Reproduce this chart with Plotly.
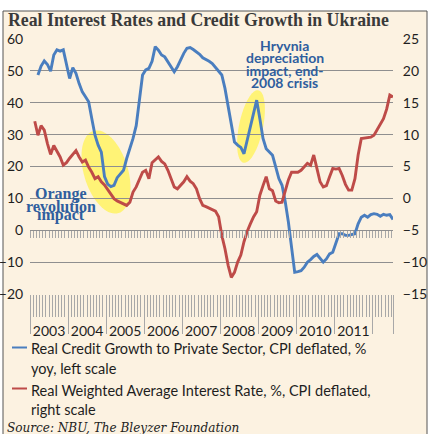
import plotly.graph_objects as go
import numpy as np

# ---------------- data ----------------
years = [2003, 2004, 2005, 2006, 2007, 2008, 2009, 2010, 2011]

# Real credit growth to private sector, % yoy (left scale); monthly, index 0 = Jan 2003
credit_growth = [
    None, None, 48.7, 51.5, 53.1, 52.0, 49.9, 55.0, 56.6, 56.2,
    56.6, 52.3, 47.6, 51.0, 49.2, 46.0, 43.4, 41.9, 40.3, 35.0,
    29.8, 26.7, 24.5, 16.8, 14.5, 13.7, 14.1, 16.5, 17.8, 18.8,
    22.5, 25.6, 28.8, 32.8, 40.3, 48.7, 50.3, 50.8, 53.0, 57.6,
    56.5, 55.0, 54.4, 52.9, 51.3, 49.7, 51.3, 53.5, 55.5, 57.1,
    57.3, 56.7, 56.0, 55.2, 54.1, 53.6, 53.0, 52.3, 51.0, 49.7,
    48.7, 44.5, 39.2, 33.0, 27.7, 26.7, 26.0, 24.0, 28.0, 32.0,
    36.5, 40.8, 35.0, 28.8, 25.6, 24.6, 23.5, 19.9, 16.2, 14.1,
    9.0, 2.6, -5.8, -13.2, -13.0, -12.7, -11.6, -10.0, -9.2, -8.2,
    -7.6, -9.0, -10.0, -9.0, -7.4, -6.9, -4.3, -1.1, -1.1, -1.6,
    -1.6, -1.4, -1.1, 2.0, 4.1, 4.7, 4.1, 4.9, 5.2, 5.0,
    4.4, 5.0, 4.7, 4.9, 3.4,
]

# Real weighted average interest rate, % (right scale)
interest_rate = [
    None, 12.1, 9.9, 11.4, 10.7, 8.6, 6.9, 8.3, 7.3, 6.5,
    5.2, 5.6, 6.3, 6.9, 7.5, 6.5, 5.7, 6.0, 4.9, 4.1,
    3.1, 3.4, 2.6, 2.1, 1.4, 0.7, -0.05, -0.4, -0.6, -0.8,
    -1.1, -0.6, 1.0, 1.8, 3.1, 4.1, 4.4, 3.1, 5.6, 6.1,
    6.5, 5.8, 5.4, 4.4, 3.0, 1.8, 1.5, 2.0, 2.6, 3.4,
    2.7, 2.3, 1.5, -0.05, -1.1, -1.3, -1.5, -1.7, -2.0, -2.9,
    -5.8, -7.9, -10.5, -12.4, -11.6, -10.0, -8.9, -6.8, -5.2, -4.0,
    -2.9, -2.1, 0.5, 2.0, 3.4, 1.5, 1.2, -0.4, -0.7, -0.6,
    1.2, 2.9, 4.1, 4.1, 4.1, 4.4, 4.9, 5.5, 5.2, 6.8,
    4.7, 2.6, 1.8, 2.0, 3.4, 4.7, 4.6, 4.7, 3.6, 2.2,
    1.3, 1.3, 3.1, 6.8, 9.4, 9.5, 9.6, 9.6, 9.9, 10.8,
    11.7, 12.5, 14.0, 16.2, 15.9,
]

month_index = list(range(len(credit_growth)))

series_names = [
    "Real Credit Growth to Private Sector, CPI deflated, %",
    "Real Weighted Average Interest Rate, %, CPI deflated,",
]
legend_second_lines = ["yoy, left scale", "right scale"]

# ---------------- layout helpers ----------------
W, H = 428, 434
ML, MR, MT, MB = 30, 35, 39, 140
PW, PH = W - ML - MR, H - MT - MB


def px(x):
    return (x - ML) / PW


def py(y):
    return (MT + PH - y) / PH


BLUE = "#4A7EBF"
RED = "#BE4B48"
TXT_BLUE = "#2F5E9E"
GRID = "#8f8f8f"
TICK = "#a8a8a8"
CREAM = "#FCF2E1"
SANS = "Lato"

x_range = [-0.5, len(month_index) - 1]

fig = go.Figure()
fig.add_trace(go.Scatter(x=month_index, y=credit_growth, mode="lines",
                         line=dict(color=BLUE, width=2.9), name=series_names[0],
                         yaxis="y", showlegend=False))
fig.add_trace(go.Scatter(x=month_index, y=interest_rate, mode="lines",
                         line=dict(color=RED, width=2.9), name=series_names[1],
                         yaxis="y2", showlegend=False))
# empty helper traces so the year-label axis and the zero-line tick axis get drawn
fig.add_trace(go.Scatter(x=[], y=[], xaxis="x2", yaxis="y", showlegend=False, hoverinfo="skip"))
fig.add_trace(go.Scatter(x=[], y=[], xaxis="x3", yaxis="y", showlegend=False, hoverinfo="skip"))

year_bounds = [-0.5 + 12 * k for k in range(len(years) + 1)] + [x_range[1]]
year_mids = [5.5 + 12 * k for k in range(len(years))]


def ellipse(cx, cy, a, b, ang):
    t = np.linspace(0, 2 * np.pi, 72)
    phi = np.radians(ang)
    xs = cx + a * np.cos(t) * np.cos(phi) - b * np.sin(t) * np.sin(phi)
    ys = cy + a * np.cos(t) * np.sin(phi) + b * np.sin(t) * np.cos(phi)
    pts = [f"{px(x):.5f},{py(y):.5f}" for x, y in zip(xs, ys)]
    return "M" + " L".join(pts) + " Z"


shapes = [
    dict(type="rect", xref="paper", yref="paper", x0=px(3), x1=px(427),
         y0=py(440), y1=py(11), fillcolor=CREAM, line=dict(color="#555555", width=1),
         layer="below"),
    dict(type="path", xref="paper", yref="paper", path=ellipse(106, 172, 43, 22, 73),
         fillcolor="#FFF36A", line=dict(width=0), opacity=0.9, layer="between"),
    dict(type="path", xref="paper", yref="paper", path=ellipse(251, 126.5, 37, 12, 101.6),
         fillcolor="#FFF36A", line=dict(width=0), opacity=0.9, layer="between"),
    dict(type="line", xref="paper", yref="paper", x0=px(12), x1=px(27),
         y0=py(347.5), y1=py(347.5), line=dict(color=BLUE, width=2)),
    dict(type="line", xref="paper", yref="paper", x0=px(12), x1=px(27),
         y0=py(388.5), y1=py(388.5), line=dict(color=RED, width=2)),
]


def ann(text, x, y, size, color, family, xanchor="center", weight="normal", style="normal"):
    return dict(text=text, x=px(x), y=py(y), xref="paper", yref="paper",
                xanchor=xanchor, yanchor="middle", showarrow=False, borderpad=0,
                font=dict(size=size, color=color, family=family, weight=weight, style=style))


annotations = [
    ann("Real Interest Rates and Credit Growth in Ukraine", 7, 20, 17.8, "#3a3a3a",
        "Liberation Serif", xanchor="left", weight="bold"),
    ann("Hryvnia", 284.5, 45, 14, TXT_BLUE, SANS, weight="bold"),
    ann("depreciation", 284.5, 57.5, 14, TXT_BLUE, SANS, weight="bold"),
    ann("impact, end-", 284.5, 70, 14, TXT_BLUE, SANS, weight="bold"),
    ann("2008 crisis", 284.5, 82.7, 14, TXT_BLUE, SANS, weight="bold"),
    ann("Orange", 61, 193.5, 16, TXT_BLUE, "Liberation Serif", weight="bold"),
    ann("revolution", 61, 206.5, 16, TXT_BLUE, "Liberation Serif", weight="bold"),
    ann("impact", 61, 215, 16, TXT_BLUE, "Liberation Serif", weight="bold"),
    ann(series_names[0], 29.5, 348.3, 14.5, "#1e1e1e", SANS, xanchor="left"),
    ann(legend_second_lines[0], 29.5, 368.3, 14.5, "#1e1e1e", SANS, xanchor="left"),
    ann(series_names[1], 29.5, 390, 14.5, "#1e1e1e", SANS, xanchor="left"),
    ann(legend_second_lines[1], 29.5, 409.3, 14.5, "#1e1e1e", SANS, xanchor="left"),
    ann("Source: NBU, The Bleyzer Foundation", 6, 427, 13.4, "#222222",
        "DejaVu Serif Condensed", xanchor="left", style="italic"),
]

tickfont = dict(family=SANS, size=14, color="#1e1e1e")

fig.update_layout(
    template="none",
    width=W, height=H,
    autosize=False,
    margin=dict(l=ML, r=MR, t=MT, b=MB, pad=0, autoexpand=False),
    paper_bgcolor="white",
    plot_bgcolor="rgba(0,0,0,0)",
    showlegend=False,
    shapes=shapes,
    annotations=annotations,
    xaxis=dict(range=x_range, tickmode="array", tickvals=year_bounds, ticks="outside",
               ticklen=39, tickwidth=1, tickcolor=TICK, showticklabels=False,
               showgrid=False, zeroline=False, showline=False, automargin=False,
               minor=dict(ticks="outside", ticklen=22, tickwidth=1, tickcolor=TICK,
                          tickmode="linear", tick0=-0.5, dtick=1, showgrid=False)),
    xaxis2=dict(range=x_range, overlaying="x", anchor="y", side="bottom",
                tickmode="array", tickvals=year_mids, ticktext=[str(y) for y in years],
                ticks="outside", ticklen=24, tickcolor="rgba(0,0,0,0)", automargin=False,
                showgrid=False, zeroline=False, showline=False, tickfont=tickfont),
    xaxis3=dict(range=x_range, overlaying="x", anchor="free", position=0.25, side="bottom",
                tickmode="linear", tick0=-0.5, dtick=1, ticks="outside", ticklen=7,
                tickwidth=1, tickcolor=TICK, showticklabels=False, automargin=False,
                showgrid=False, zeroline=False, showline=False),
    yaxis=dict(range=[-20, 60], tickmode="linear", tick0=0, dtick=10, showgrid=True,
               gridcolor=GRID, gridwidth=1, zeroline=False, showline=False, automargin=False,
               ticks="outside", ticklen=3, tickcolor="rgba(0,0,0,0)", tickfont=tickfont),
    yaxis2=dict(range=[-15, 25], overlaying="y", side="right", tickmode="linear", tick0=0,
                dtick=5, showgrid=False, zeroline=False, showline=False, automargin=False,
                ticks="outside", ticklen=6, tickcolor="rgba(0,0,0,0)", tickfont=tickfont),
)

fig.write_html(
    "out.html",
    config={"displayModeBar": False, "responsive": False},
    post_script="document.body.style.margin='0';document.documentElement.style.overflow='hidden';",
)
